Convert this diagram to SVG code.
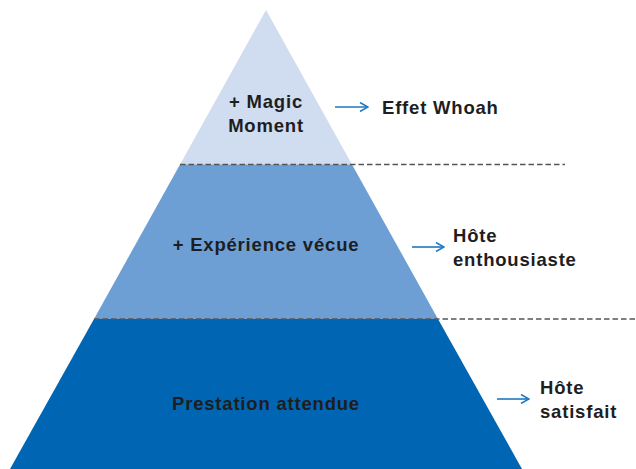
<svg xmlns="http://www.w3.org/2000/svg" width="636" height="469" viewBox="0 0 636 469">
<style>
.t{font-family:"Liberation Sans",Arial,sans-serif;font-weight:bold;font-size:18.5px;letter-spacing:0.8px;fill:#1e1e1e}
.m{text-anchor:middle}
.d{stroke:#555;stroke-width:1.3;stroke-dasharray:5.5 3;fill:none}
.a{stroke:#1f78c1;stroke-width:1.6;fill:none}
</style>
<defs>
<marker id="ah" viewBox="0 0 10 10" refX="9" refY="5" markerWidth="10" markerHeight="10" markerUnits="userSpaceOnUse" orient="auto">
<path d="M1,0.5 L9,5 L1,9.5" fill="none" stroke="#1f78c1" stroke-width="1.6"/>
</marker>
</defs>
<g id="tier-top">
<polygon points="266,10 352,164.5 180,164.5" fill="#d0dcf0"/>
<text class="t m" x="266" y="108">+ Magic</text>
<text class="t m" x="266" y="132">Moment</text>
</g>
<g id="tier-middle">
<polygon points="180,164.5 352,164.5 438,319 94,319" fill="#6e9fd4"/>
<text class="t m" x="266" y="251">+ Expérience vécue</text>
</g>
<g id="tier-bottom">
<polygon points="94,319 438,319 522,469 10,469" fill="#0066b3"/>
<text class="t m" x="266" y="410">Prestation attendue</text>
</g>
<g id="outcome-1">
<text class="t" x="382" y="114">Effet Whoah</text>
</g>
<g id="outcome-2">
<text class="t" x="453" y="242">Hôte</text>
<text class="t" x="453" y="266">enthousiaste</text>
</g>
<g id="outcome-3">
<text class="t" x="540" y="394">Hôte</text>
<text class="t" x="540" y="418">satisfait</text>
</g>
<g id="connectors">
<line class="d" x1="180" y1="164.5" x2="565" y2="164.5"/>
<line class="d" x1="94" y1="319" x2="636" y2="319"/>
<line class="a" x1="335" y1="107" x2="368" y2="107" marker-end="url(#ah)"/>
<line class="a" x1="412" y1="247" x2="444" y2="247" marker-end="url(#ah)"/>
<line class="a" x1="497" y1="399" x2="529" y2="399" marker-end="url(#ah)"/>
</g>
</svg>
